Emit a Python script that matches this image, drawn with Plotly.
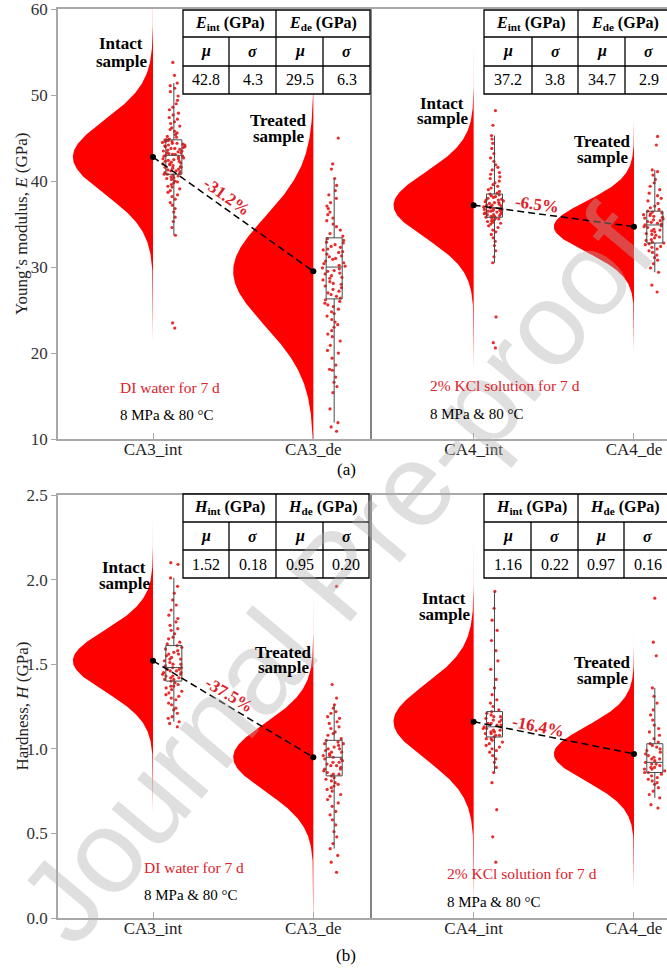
import numpy as np
import plotly.graph_objects as go

# ---------------- data ----------------
categories = ["CA3_int", "CA3_de", "CA4_int", "CA4_de"]

# Young's modulus (GPa): fitted normal parameters
E_mu = [42.8, 29.5, 37.2, 34.7]
E_sigma = [4.3, 6.3, 3.8, 2.9]
# box statistics
E_q1 = [40.8, 26.3, 35.8, 32.8]
E_med = [43.0, 30.0, 36.9, 34.9]
E_q3 = [44.8, 33.4, 38.5, 36.5]
E_lo = [33.7, 11.9, 30.5, 29.4]
E_hi = [51.4, 40.3, 45.3, 41.3]
E_change = ["-31.2%", "-6.5%"]
E_ticks = [10, 20, 30, 40, 50, 60]

E_CA3_int = [22.9, 23.5, 33.7, 34.6, 35.3, 35.8, 36.4, 36.8, 37.2, 37.5, 37.9, 38.2, 38.4, 38.7, 38.9, 39.1, 39.3,
             39.4, 39.6, 39.8, 39.9, 40.0, 40.2, 40.3, 40.4, 40.5, 40.6, 40.7, 40.8, 40.8, 40.9, 41.0, 41.1, 41.2,
             41.2, 41.3, 41.4, 41.5, 41.6, 41.6, 41.7, 41.8, 41.9, 42.0, 42.0, 42.1, 42.2, 42.3, 42.3, 42.4, 42.5,
             42.6, 42.6, 42.7, 42.8, 42.9, 42.9, 43.0, 43.1, 43.1, 43.2, 43.3, 43.3, 43.4, 43.5, 43.5, 43.6, 43.7,
             43.8, 43.8, 43.9, 44.0, 44.0, 44.1, 44.2, 44.2, 44.3, 44.4, 44.4, 44.5, 44.6, 44.6, 44.7, 44.8, 44.8,
             44.9, 45.1, 45.2, 45.4, 45.6, 45.8, 46.0, 46.2, 46.4, 46.7, 46.9, 47.2, 47.4, 47.7, 47.9, 48.3, 48.6,
             49.0, 49.4, 49.9, 50.4, 50.8, 51.1, 51.4, 52.3, 53.8]
E_CA3_de = [10.9, 11.4, 11.9, 13.5, 15.4, 16.1, 16.6, 17.2, 18.0, 18.1, 18.6, 19.4, 20.0, 20.3, 20.9, 21.4, 21.9,
            22.2, 22.6, 23.0, 23.3, 23.6, 23.9, 24.3, 24.6, 24.8, 25.1, 25.4, 25.6, 25.8, 26.0, 26.2, 26.4, 26.6,
            26.8, 27.0, 27.2, 27.4, 27.6, 27.8, 28.0, 28.1, 28.3, 28.5, 28.7, 28.8, 29.0, 29.2, 29.3, 29.5, 29.6,
            29.8, 29.9, 30.1, 30.2, 30.4, 30.5, 30.7, 30.9, 31.0, 31.2, 31.3, 31.5, 31.7, 31.8, 32.0, 32.1, 32.3,
            32.4, 32.6, 32.8, 32.9, 33.1, 33.3, 33.6, 33.9, 34.3, 34.7, 35.0, 35.4, 35.7, 36.1, 36.4, 36.8, 37.1,
            37.5, 38.0, 38.4, 38.9, 39.5, 40.3, 41.4, 42.0, 45.0]
E_CA4_int = [20.6, 21.2, 24.2, 30.5, 31.2, 31.9, 32.5, 33.0, 33.4, 33.8, 34.1, 34.3, 34.6, 34.8, 35.0, 35.1, 35.2,
             35.3, 35.4, 35.5, 35.6, 35.7, 35.7, 35.8, 35.9, 35.9, 36.0, 36.1, 36.1, 36.2, 36.2, 36.3, 36.4, 36.4,
             36.5, 36.5, 36.6, 36.6, 36.7, 36.7, 36.8, 36.8, 36.9, 37.0, 37.0, 37.1, 37.2, 37.2, 37.3, 37.4, 37.5,
             37.5, 37.6, 37.7, 37.8, 37.8, 37.9, 38.0, 38.1, 38.2, 38.3, 38.4, 38.5, 38.6, 38.8, 39.0, 39.2, 39.4,
             39.6, 39.8, 40.0, 40.3, 40.5, 40.8, 41.0, 41.3, 41.6, 41.9, 42.3, 42.7, 43.2, 43.8, 44.4, 44.9, 45.3,
             46.5, 48.2]
E_CA4_de = [27.1, 27.9, 29.4, 29.9, 30.4, 30.8, 31.1, 31.4, 31.7, 31.9, 32.1, 32.3, 32.4, 32.6, 32.7, 32.8, 32.9,
            33.1, 33.2, 33.4, 33.5, 33.7, 33.8, 33.9, 34.1, 34.2, 34.3, 34.4, 34.6, 34.7, 34.8, 34.9, 35.0, 35.1,
            35.2, 35.3, 35.4, 35.5, 35.6, 35.7, 35.8, 35.9, 36.0, 36.1, 36.2, 36.3, 36.4, 36.5, 36.7, 36.9, 37.1,
            37.4, 37.7, 38.0, 38.3, 38.6, 39.0, 39.4, 39.8, 40.2, 40.7, 41.1, 41.3, 44.2, 45.2]

# Hardness (GPa)
H_mu = [1.52, 0.95, 1.16, 0.97]
H_sigma = [0.18, 0.20, 0.22, 0.16]
H_q1 = [1.40, 0.84, 1.07, 0.86]
H_med = [1.48, 0.95, 1.13, 0.92]
H_q3 = [1.61, 1.05, 1.22, 1.03]
H_lo = [1.16, 0.41, 0.86, 0.71]
H_hi = [2.01, 1.26, 1.93, 1.36]
H_change = ["-37.5%", "-16.4%"]
H_ticks = [0.0, 0.5, 1.0, 1.5, 2.0, 2.5]

H_CA3_int = [1.13, 1.15, 1.16, 1.18, 1.19, 1.21, 1.23, 1.24, 1.26, 1.27, 1.29, 1.30, 1.31, 1.32, 1.33, 1.34, 1.35,
             1.36, 1.37, 1.37, 1.38, 1.39, 1.40, 1.41, 1.41, 1.42, 1.42, 1.43, 1.43, 1.44, 1.44, 1.45, 1.45, 1.46,
             1.46, 1.47, 1.47, 1.48, 1.48, 1.49, 1.50, 1.50, 1.51, 1.52, 1.53, 1.53, 1.54, 1.55, 1.56, 1.56, 1.57,
             1.58, 1.59, 1.60, 1.61, 1.62, 1.63, 1.65, 1.66, 1.68, 1.70, 1.71, 1.73, 1.75, 1.77, 1.79, 1.82, 1.85,
             1.88, 1.92, 1.96, 2.01, 2.09, 2.10]
H_CA3_de = [0.27, 0.33, 0.37, 0.41, 0.44, 0.48, 0.51, 0.55, 0.58, 0.61, 0.63, 0.66, 0.68, 0.70, 0.72, 0.73, 0.75,
            0.76, 0.77, 0.78, 0.79, 0.80, 0.81, 0.82, 0.83, 0.84, 0.85, 0.85, 0.86, 0.87, 0.88, 0.88, 0.89, 0.90,
            0.90, 0.91, 0.92, 0.92, 0.93, 0.94, 0.94, 0.95, 0.96, 0.96, 0.97, 0.98, 0.98, 0.99, 1.00, 1.00, 1.01,
            1.02, 1.03, 1.03, 1.04, 1.05, 1.06, 1.08, 1.09, 1.10, 1.12, 1.13, 1.15, 1.16, 1.18, 1.19, 1.21, 1.22,
            1.24, 1.26, 1.30, 1.38, 1.96]
H_CA4_int = [0.33, 0.48, 0.64, 0.80, 0.86, 0.89, 0.92, 0.94, 0.96, 0.98, 0.99, 1.00, 1.01, 1.02, 1.03, 1.04, 1.05,
             1.06, 1.06, 1.07, 1.08, 1.08, 1.09, 1.09, 1.10, 1.10, 1.11, 1.11, 1.12, 1.12, 1.13, 1.13, 1.14, 1.14,
             1.15, 1.15, 1.16, 1.17, 1.17, 1.18, 1.19, 1.19, 1.20, 1.21, 1.22, 1.23, 1.25, 1.27, 1.29, 1.32, 1.36,
             1.41, 1.47, 1.52, 1.58, 1.64, 1.70, 1.76, 1.83, 1.93]
H_CA4_de = [0.65, 0.67, 0.71, 0.73, 0.75, 0.77, 0.79, 0.80, 0.81, 0.82, 0.83, 0.84, 0.85, 0.86, 0.86, 0.87, 0.88,
            0.88, 0.89, 0.89, 0.90, 0.91, 0.91, 0.92, 0.93, 0.94, 0.94, 0.95, 0.96, 0.97, 0.98, 0.99, 1.00, 1.01,
            1.02, 1.03, 1.04, 1.06, 1.08, 1.10, 1.12, 1.14, 1.17, 1.20, 1.23, 1.27, 1.31, 1.36, 1.55, 1.63, 1.89]

E_points = [E_CA3_int, E_CA3_de, E_CA4_int, E_CA4_de]
H_points = [H_CA3_int, H_CA3_de, H_CA4_int, H_CA4_de]

# ---------------- layout geometry (pixels) ----------------
FIG_W, FIG_H = 667, 969
LEFT, RIGHT = 58, 667
TOP_A, BOT_A = 9, 439       # panel (a)
TOP_B, BOT_B = 495, 918     # panel (b)
PLOT_W = RIGHT - LEFT
PLOT_H = BOT_B - TOP_A
X_RANGE = [-0.5926, 3.206]
E_RANGE = [10, 60]
H_RANGE = [0, 2.5]

SERIF = "Liberation Serif, Times New Roman, serif"
RED = "#ff0000"
TXT_RED = "#e0202a"


def pxx(x):
    return (x - LEFT) / PLOT_W


def pxy(y):
    return (BOT_B - y) / PLOT_H


fig = go.Figure()


def add_panel(xa, ya, mus, sigmas, points, q1, med, q3, lo, hi):
    # half-violins: fitted normal density drawn to the left of each category
    for i, (m, s) in enumerate(zip(mus, sigmas)):
        yy = np.linspace(m - 5 * s, m + 5 * s, 400)
        dens = np.exp(-0.5 * ((yy - m) / s) ** 2)
        xs = i - 0.5 * dens
        fig.add_trace(go.Scatter(
            x=np.concatenate([xs, [i, i]]), y=np.concatenate([yy, [yy[-1], yy[0]]]),
            fill="toself", fillcolor=RED, mode="lines", line=dict(width=0, color=RED),
            xaxis=xa, yaxis=ya, hoverinfo="skip", showlegend=False))
    # jittered raw points
    for i, vals in enumerate(points):
        fig.add_trace(go.Box(
            y=vals, x0=i + 0.13, width=0.15, boxpoints="all", jitter=1, pointpos=0,
            fillcolor="rgba(0,0,0,0)", line=dict(color="rgba(0,0,0,0)", width=0),
            marker=dict(color="rgb(232,20,20)", size=3.2, opacity=0.9),
            xaxis=xa, yaxis=ya, showlegend=False, hoverinfo="skip"))
    # box-and-whisker on top of the points
    for i in range(len(q1)):
        fig.add_trace(go.Box(
            x=[i + 0.13], q1=[q1[i]], median=[med[i]], q3=[q3[i]],
            lowerfence=[lo[i]], upperfence=[hi[i]], orientation="v",
            width=0.1, whiskerwidth=0, boxpoints=False,
            fillcolor="rgba(0,0,0,0)", line=dict(color="#4a4a4a", width=1),
            xaxis=xa, yaxis=ya, showlegend=False, hoverinfo="skip"))
    # mean connectors
    for k in (0, 2):
        fig.add_trace(go.Scatter(
            x=[k, k + 1], y=[mus[k], mus[k + 1]], mode="lines+markers",
            line=dict(color="black", width=1.5, dash="7px,4px"),
            marker=dict(color="black", size=6),
            xaxis=xa, yaxis=ya, showlegend=False, hoverinfo="skip"))


add_panel("x", "y", E_mu, E_sigma, E_points, E_q1, E_med, E_q3, E_lo, E_hi)
add_panel("x2", "y2", H_mu, H_sigma, H_points, H_q1, H_med, H_q3, H_lo, H_hi)

annotations = []
shapes = []

# watermark
annotations.append(dict(
    text="Journal Pre-proof", xref="paper", yref="paper", x=pxx(336), y=pxy(575),
    xanchor="center", yanchor="middle",
    showarrow=False, textangle=-50, font=dict(family="Liberation Sans, Arial, sans-serif",
                                               size=118, color="rgba(175,175,175,0.40)")))

# percentage change labels along the mean connectors
x_px_per_unit = PLOT_W / (X_RANGE[1] - X_RANGE[0])
label_place = [[(0.42, 11), (0.39, 9)], [(0.44, 10), (0.39, 8)]]
for p, (mus, yr, top, bot, xref, yref, labels) in enumerate([
        (E_mu, E_RANGE, TOP_A, BOT_A, "x", "y", E_change),
        (H_mu, H_RANGE, TOP_B, BOT_B, "x2", "y2", H_change)]):
    y_px_per_unit = (bot - top) / (yr[1] - yr[0])
    for j, k in enumerate((0, 2)):
        dx = x_px_per_unit
        dy = (mus[k] - mus[k + 1]) * y_px_per_unit
        th = np.arctan2(dy, dx)
        t, d = label_place[p][j]
        annotations.append(dict(
            text="<b>" + labels[j] + "</b>", xref=xref, yref=yref,
            x=k + t, y=mus[k] + t * (mus[k + 1] - mus[k]),
            xshift=d * np.sin(th), yshift=d * np.cos(th),
            textangle=float(np.degrees(th)), showarrow=False,
            font=dict(family=SERIF, size=17, color=TXT_RED)))


def text(x, y, s, size=17, color="black", bold=False, xanchor="center"):
    annotations.append(dict(
        text=("<b>%s</b>" % s) if bold else s, xref="paper", yref="paper",
        x=pxx(x), y=pxy(y), xanchor=xanchor, yanchor="middle", showarrow=False,
        font=dict(family=SERIF, size=size, color=color)))


# sample labels (two lines each)
for (x, y1, y2, a, b) in [
        (121, 44, 62, "Intact", "sample"), (278, 120, 137, "Treated", "sample"),
        (442, 103, 119, "Intact", "sample"), (602, 142, 157, "Treated", "sample"),
        (124, 567, 583, "Intact", "sample"), (283, 652, 668, "Treated", "sample"),
        (444, 598, 614, "Intact", "sample"), (602, 662, 678, "Treated", "sample")]:
    text(x, y1, a, bold=True)
    text(x, y2, b, bold=True)

# treatment conditions
for (x, y1, y2, a) in [(118, 387, 415, "DI water for 7 d"),
                        (428, 386, 414, "2% KCl solution for 7 d"),
                        (142, 867, 895, "DI water for 7 d"),
                        (445, 873, 902, "2% KCl solution for 7 d")]:
    text(x, y1, a, size=15.5, color=TXT_RED, xanchor="left")
    text(x, y2, "8 MPa &amp; 80 \u00b0C", size=15, xanchor="left")

# panel captions
text(346, 470, "(a)", size=17)
text(346, 955, "(b)", size=17)

# y-axis titles
annotations.append(dict(text="Young\u2019s modulus, <i>E</i> (GPa)", xref="paper", yref="paper",
                        x=pxx(21), y=pxy((TOP_A + BOT_A) / 2), xanchor="center", yanchor="middle",
                        textangle=-90, showarrow=False,
                        font=dict(family=SERIF, size=17, color="#222")))
annotations.append(dict(text="Hardness, <i>H</i> (GPa)", xref="paper", yref="paper",
                        x=pxx(22), y=pxy((TOP_B + BOT_B) / 2), xanchor="center", yanchor="middle",
                        textangle=-90, showarrow=False,
                        font=dict(family=SERIF, size=17, color="#222")))


# statistics tables
def table(cols, rows, sym, mus, sigmas, fmt):
    x0, x1 = pxx(cols[0]), pxx(cols[-1])
    y0, y1 = pxy(rows[0]), pxy(rows[-1])
    line = dict(color="black", width=1.3)
    shapes.append(dict(type="rect", xref="paper", yref="paper", x0=x0, x1=x1, y0=y0, y1=y1,
                       fillcolor="white", line=line, layer="above"))
    for r in rows[1:-1]:
        shapes.append(dict(type="line", xref="paper", yref="paper", x0=x0, x1=x1,
                           y0=pxy(r), y1=pxy(r), line=line))
    shapes.append(dict(type="line", xref="paper", yref="paper", x0=pxx(cols[2]), x1=pxx(cols[2]),
                       y0=y0, y1=y1, line=line))
    for c in (cols[1], cols[3]):
        shapes.append(dict(type="line", xref="paper", yref="paper", x0=pxx(c), x1=pxx(c),
                           y0=pxy(rows[1]), y1=y1, line=line))
    ym = [(rows[i] + rows[i + 1]) / 2 for i in range(3)]
    text((cols[0] + cols[2]) / 2, ym[0], "<i>%s</i><sub>int</sub> (GPa)" % sym, size=16, bold=True)
    text((cols[2] + cols[4]) / 2, ym[0], "<i>%s</i><sub>de</sub> (GPa)" % sym, size=16, bold=True)
    for c in range(4):
        xc = (cols[c] + cols[c + 1]) / 2
        text(xc, ym[1], "<i>\u03bc</i>" if c % 2 == 0 else "<i>\u03c3</i>", size=16, bold=True)
    vals = [mus[0], sigmas[0], mus[1], sigmas[1]]
    for c in range(4):
        xc = (cols[c] + cols[c + 1]) / 2
        text(xc, ym[2], fmt.format(vals[c]), size=16)


table([183, 229, 276, 323, 370], [10, 37, 66, 94], "E", E_mu[0:2], E_sigma[0:2], "{:.1f}")
table([484, 532, 578, 625, 672], [10, 37, 66, 94], "E", E_mu[2:4], E_sigma[2:4], "{:.1f}")
table([183, 229, 276, 323, 369], [494, 522, 550, 578], "H", H_mu[0:2], H_sigma[0:2], "{:.2f}")
table([484, 531, 578, 624, 671], [494, 522, 550, 578], "H", H_mu[2:4], H_sigma[2:4], "{:.2f}")

# vertical separators between the two specimen groups
sep_x = (371 - LEFT) / x_px_per_unit + X_RANGE[0]
for xr, yr in (("x", "y domain"), ("x2", "y2 domain")):
    shapes.append(dict(type="line", xref=xr, yref=yr, x0=sep_x, x1=sep_x, y0=0, y1=1,
                       line=dict(color="#333", width=1.2), layer="above"))

xaxis_common = dict(range=X_RANGE, tickvals=[0, 1, 2, 3], ticktext=categories,
                    showline=True, linecolor="#a8a8a8", linewidth=1.5, mirror=True,
                    ticks="inside", ticklen=6, tickcolor="#a8a8a8", showgrid=False, zeroline=False,
                    ticklabelstandoff=-6,
                    tickfont=dict(family=SERIF, size=17, color="#222"), fixedrange=True)
yaxis_common = dict(showline=True, linecolor="#a8a8a8", linewidth=1.5, ticks="outside", ticklen=5,
                    tickcolor="#a8a8a8", showgrid=False, zeroline=False,
                    tickfont=dict(family=SERIF, size=17, color="#333"), fixedrange=True)

fig.update_layout(
    width=FIG_W, height=FIG_H, autosize=False,
    margin=dict(l=LEFT, r=FIG_W - RIGHT, t=TOP_A, b=FIG_H - BOT_B),
    paper_bgcolor="white", plot_bgcolor="white",
    showlegend=False, hovermode=False, boxmode="overlay",
    xaxis=dict(anchor="y", **xaxis_common),
    xaxis2=dict(anchor="y2", **xaxis_common),
    yaxis=dict(anchor="x", domain=[pxy(BOT_A), 1], range=[E_RANGE[0], E_RANGE[1] + 0.02],
               tickvals=E_ticks, ticktext=[str(v) for v in E_ticks], **yaxis_common),
    yaxis2=dict(anchor="x2", domain=[0, pxy(TOP_B)], range=H_RANGE,
                tickvals=H_ticks, ticktext=["%.1f" % v for v in H_ticks], **yaxis_common),
    annotations=annotations, shapes=shapes,
)

fig.write_html("out.html")
